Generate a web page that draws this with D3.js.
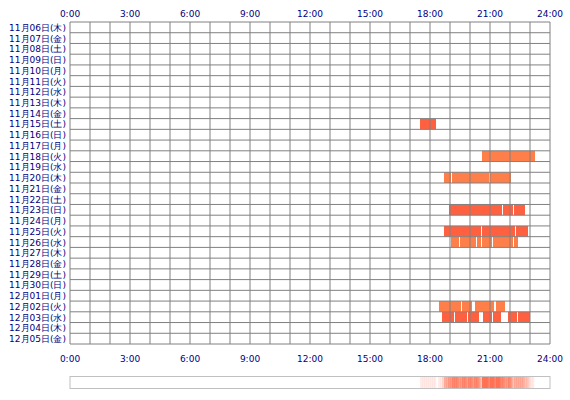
<!DOCTYPE html><html><head><meta charset="utf-8"><script src="https://d3js.org/d3.v7.min.js"></script>
<style>body{margin:0;background:#fff}text{font-family:"DejaVu Sans",sans-serif;font-size:9px;fill:#000080}</style></head><body>
<script>
const days=["11月06日(木)","11月07日(金)","11月08日(土)","11月09日(日)","11月10日(月)","11月11日(火)","11月12日(水)","11月13日(木)","11月14日(金)","11月15日(土)","11月16日(日)","11月17日(月)","11月18日(火)","11月19日(水)","11月20日(木)","11月21日(金)","11月22日(土)","11月23日(日)","11月24日(月)","11月25日(火)","11月26日(水)","11月27日(木)","11月28日(金)","11月29日(土)","11月30日(日)","12月01日(月)","12月02日(火)","12月03日(水)","12月04日(木)","12月05日(金)"];
const tickLabels=["0:00","3:00","6:00","9:00","12:00","15:00","18:00","21:00","24:00"];
// [dayIndex, startHour, endHour, colorType]
const sessions=[
[9,17.5,18.3,0],
[12,20.6,23.25,1],
[14,18.7,19.05,1],[14,19.1,20.95,1],[14,21.0,22.05,1],
[17,18.95,21.6,0],[17,21.65,22.15,0],[17,22.2,22.75,0],
[19,18.7,20.55,0],[19,20.6,22.25,0],[19,22.3,22.9,0],
[20,19.05,19.45,1],[20,19.5,20.3,1],[20,20.35,20.55,1],[20,20.6,21.1,1],[20,21.15,22.15,1],[20,22.2,22.4,1],
[26,18.45,19.55,1],[26,19.6,20.1,1],[26,20.25,21.2,1],[26,21.3,21.75,1],
[27,18.6,19.2,0],[27,19.25,19.85,0],[27,19.9,20.45,0],[27,20.65,21.1,0],[27,21.15,21.55,0],[27,21.9,22.35,0],[27,22.4,23.0,0]
];
const colors=["#ff6040","#ff7f4a"];
const svg=d3.select("body").append("svg").attr("width",570).attr("height",400);
const L=70,R=550,T=22,B=344;
const x=d3.scaleLinear().domain([0,24]).range([L,R]);
const y=d3.scaleBand().domain(d3.range(days.length)).range([T,B]);
svg.selectAll(".bar").data(sessions).join("rect").attr("x",d=>x(d[1])).attr("width",d=>x(d[2])-x(d[1]))
 .attr("y",d=>y(d[0])).attr("height",y.bandwidth()).attr("fill",d=>colors[d[3]]);
const g=svg.append("g").attr("stroke","#808080").attr("stroke-width",1);
d3.range(25).forEach(h=>g.append("line").attr("x1",x(h)).attr("x2",x(h)).attr("y1",T).attr("y2",B));
d3.range(days.length+1).forEach(i=>{const yy=i<days.length?y(i):B;g.append("line").attr("x1",L).attr("x2",R).attr("y1",yy).attr("y2",yy);});
tickLabels.forEach((t,i)=>{
 svg.append("text").attr("x",x(i*3)).attr("y",17).attr("text-anchor","middle").text(t);
 svg.append("text").attr("x",x(i*3)).attr("y",362).attr("text-anchor","middle").text(t);
});
days.forEach((d,i)=>svg.append("text").attr("x",66).attr("y",y(i)+y.bandwidth()/2+3.5).attr("text-anchor","end").text(d));
// heat strip
const bins=d3.range(0,24,0.1);
const cnt=bins.map(b=>sessions.filter(s=>s[1]<=b+0.05&&s[2]>b+0.05).length);
const op=d3.scaleLinear().domain([0,6]).range([0,0.75]);
svg.selectAll(".heat").data(bins).join("rect").attr("x",b=>x(b)).attr("width",x(0.1)-x(0)+0.3).attr("y",377).attr("height",11)
 .attr("fill","#ff6040").attr("fill-opacity",(b,i)=>op(cnt[i]));
svg.append("rect").attr("x",L).attr("y",376.5).attr("width",R-L).attr("height",12).attr("fill","none").attr("stroke","#c0c0c0");
</script></body></html>
